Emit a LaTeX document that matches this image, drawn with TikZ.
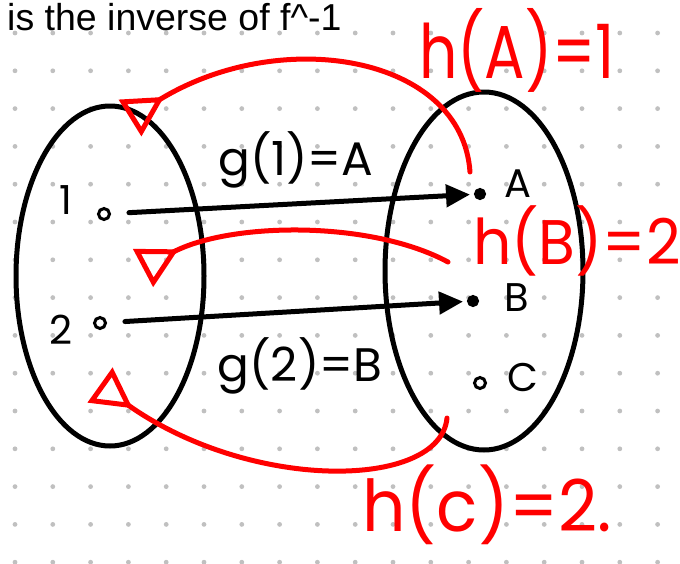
\documentclass[tikz,border=0pt]{standalone}
\usepackage{fontspec}
\setmainfont{Liberation Sans}
\newfontfamily\handfont{Poppins}
\usetikzlibrary{arrows.meta, shapes.geometric}
\definecolor{penred}{RGB}{255,0,0}
\definecolor{dotgray}{RGB}{192,192,192}
\newcommand{\handtall}[2]{\scalebox{1}[#1]{#2}}

\begin{document}
\begin{tikzpicture}[x=1pt, y=-1pt, >={Triangle[length=24pt,width=22pt]}, line cap=round,
		setpt/.style={circle, draw, line width=3pt, inner sep=0pt, minimum size=11pt},
		fullpt/.style={setpt, fill, minimum size=9pt},
		setbox/.style={ellipse, draw, line width=5pt, inner sep=0pt},
		hand/.style={font=\handfont\fontsize{40}{40}\selectfont, inner sep=0pt},
		glabel/.style={font=\handfont\fontsize{47}{47}\selectfont, inner sep=0pt},
		redhand/.style={font=\handfont\fontsize{#1}{#1}\selectfont, text=penred, inner sep=0pt},
		pen/.style={line width=5pt},
		redpen/.style={pen, draw=penred, -{Triangle[open,reversed,length=40pt,width=42pt]}}]
			\useasboundingbox (0,0) rectangle (680,563);
			% Punkteraster
			\foreach \i in {0,...,17}
				\foreach \j in {0,...,14}
					\fill[dotgray] (15+37.8*\i, 33+37.8*\j) circle (2.4pt);
			% Ueberschrift
			\node[anchor=base west, font=\fontsize{37.5}{37.5}\selectfont, inner sep=0pt] (title) at (7,30) {is the inverse of f\textasciicircum-1};
			% Mengen
			\node[setbox, minimum width=188pt, minimum height=340pt] (setL) at (110,276) {};
			\node[setbox, minimum width=198pt, minimum height=358pt] (setR) at (484,271) {};
			% Elemente
			\node[setpt] (p1) at (104,214) {};
			\node[setpt] (p2) at (100,323) {};
			\node[fullpt] (qA) at (480,194) {};
			\node[fullpt] (qB) at (473,301) {};
			\node[setpt] (qC) at (480,383) {};
			\node[hand] (one) at (66,200) {1};
			\node[hand] (two) at (61,330) {2};
			\node[hand] (labA) at (518,184) {A};
			\node[hand] (labB) at (517,298) {B};
			\node[hand] (labC) at (523,377) {C};
			% g
			\draw[pen, ->, shorten <=18pt, shorten >=4pt] (p1) -- (qA);
			\draw[pen, ->, shorten <=18pt, shorten >=4pt] (p2) -- (qB);
			\node[glabel] (g1) at (296,160) {g(1)=A};
			\node[glabel] (g2) at (300,366) {g(2)=B};
			% h zurueck
			\coordinate (hAa) at (470,172);
			\coordinate (hAb) at (130,118);
			\coordinate (hBa) at (448,262);
			\coordinate (hBb) at (143,268);
			\coordinate (hCa) at (447,418);
			\coordinate (hCb) at (100,385);
			\draw[redpen] (hAa) .. controls (462,55) and (280,25) .. (hAb);
			\draw[redpen] (hBa) .. controls (370,220) and (230,222) .. (hBb);
			\draw[redpen] (hCa) .. controls (440,490) and (250,492) .. (hCb);
			\node[redhand=60] (hA) at (517,50) {\handtall{1.25}{h(A)=1}};
			\node[redhand=60] (hB) at (577,241) {\handtall{1.05}{h(B)=2}};
			\node[redhand=68] (hC) at (487,505) {\handtall{1.05}{h(c)=2.}};
		\end{tikzpicture}
\end{document}
